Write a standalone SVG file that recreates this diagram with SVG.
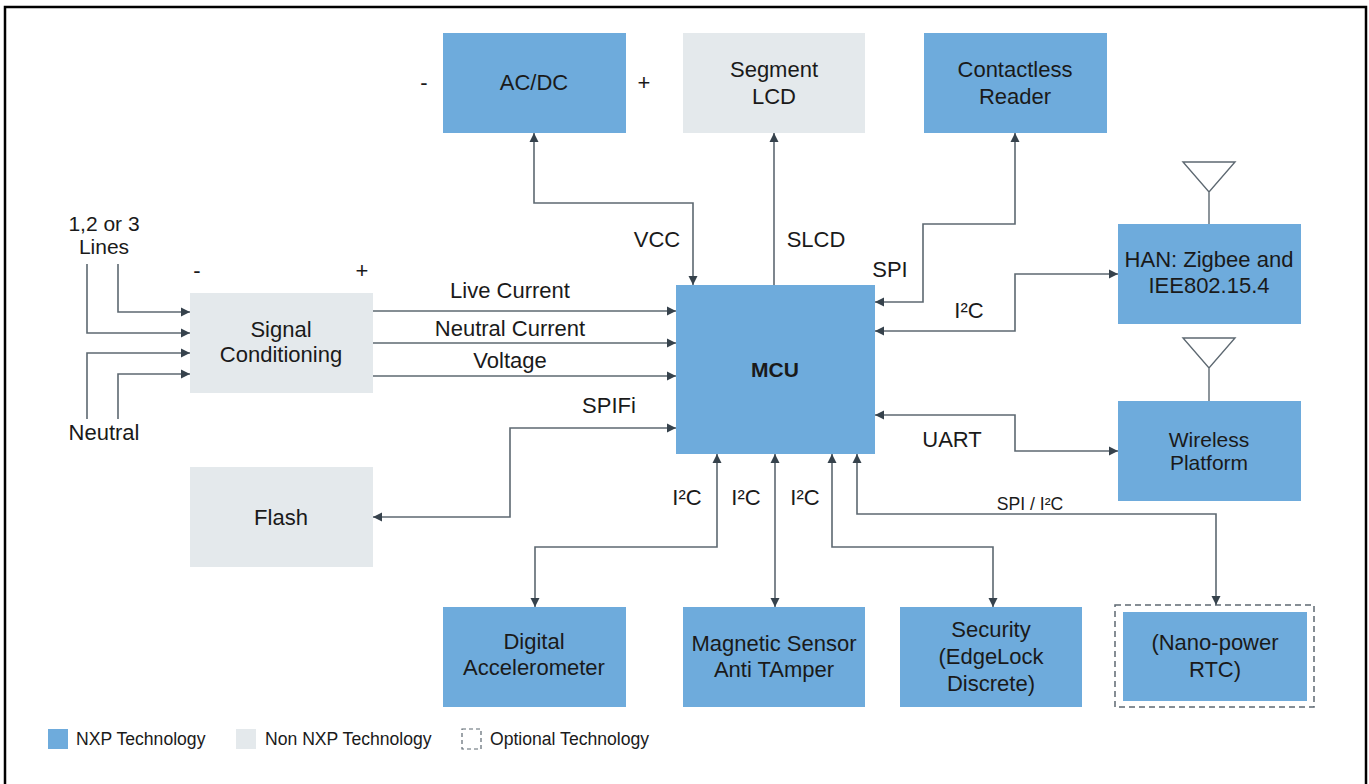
<svg xmlns="http://www.w3.org/2000/svg" width="1369" height="784" viewBox="0 0 1369 784">
<style>
.nxp{fill:#6EABDC}
.non{fill:#E4E9EC}
.t{font-family:"Liberation Sans",Arial,sans-serif;font-size:22px;fill:#1a1a1a;text-anchor:middle}
.s{font-family:"Liberation Sans",Arial,sans-serif;font-size:17.6px;fill:#1a1a1a}
.c{fill:none;stroke:#5d6871;stroke-width:1.6}
.ant{fill:none;stroke:#5d6871;stroke-width:1.4}
</style>
<defs>
<marker id="a" viewBox="0 0 10 10" refX="10" refY="5" markerWidth="9" markerHeight="10" markerUnits="userSpaceOnUse" orient="auto-start-reverse">
<path d="M0,0 L10,5 L0,10 z" fill="#36424c"/>
</marker>
</defs>
<rect x="0" y="0" width="1369" height="784" fill="#fff"/>
<rect x="5" y="7" width="1361" height="800" fill="none" stroke="#000" stroke-width="2.5"/>

<g id="acdc"><rect class="nxp" x="443" y="33" width="183" height="100"/><text class="t" x="534" y="90">AC/DC</text>
<text class="t" x="424" y="90">-</text><text class="t" x="644" y="90">+</text></g>
<g id="slcd"><rect class="non" x="683" y="33" width="182" height="100"/><text class="t" x="774" y="77">Segment</text><text class="t" x="774" y="104">LCD</text></g>
<g id="reader"><rect class="nxp" x="924" y="33" width="183" height="100"/><text class="t" x="1015" y="77">Contactless</text><text class="t" x="1015" y="104">Reader</text></g>
<g id="han"><rect class="nxp" x="1118" y="224" width="183" height="100"/><text class="t" x="1209" y="267">HAN: Zigbee and</text><text class="t" x="1209" y="293">IEE802.15.4</text>
<path class="ant" d="M1209,224 V192 M1183,162 H1235 L1209,192 Z"/></g>
<g id="wireless"><rect class="nxp" x="1118" y="401" width="183" height="100"/><text class="t" x="1209" y="447" style="font-size:21px">Wireless</text><text class="t" x="1209" y="470" style="font-size:21px">Platform</text>
<path class="ant" d="M1209,401 V368 M1183,338 H1235 L1209,368 Z"/></g>
<g id="mcu"><rect class="nxp" x="676" y="285" width="199" height="169"/><text class="t" x="775" y="377" style="font-weight:bold;font-size:21px">MCU</text></g>
<g id="signal"><rect class="non" x="190" y="293" width="183" height="100"/><text class="t" x="281" y="337">Signal</text><text class="t" x="281" y="362">Conditioning</text>
<text class="t" x="197" y="278">-</text><text class="t" x="362" y="278">+</text></g>
<g id="flash"><rect class="non" x="190" y="467" width="183" height="100"/><text class="t" x="281" y="525">Flash</text></g>
<g id="accel"><rect class="nxp" x="443" y="607" width="183" height="100"/><text class="t" x="534" y="649">Digital</text><text class="t" x="534" y="675">Accelerometer</text></g>
<g id="mag"><rect class="nxp" x="683" y="607" width="182" height="100"/><text class="t" x="774" y="651">Magnetic Sensor</text><text class="t" x="774" y="677">Anti TAmper</text></g>
<g id="security"><rect class="nxp" x="900" y="607" width="182" height="100"/><text class="t" x="991" y="637">Security</text><text class="t" x="991" y="664">(EdgeLock</text><text class="t" x="991" y="691">Discrete)</text></g>
<g id="rtc"><rect x="1115" y="605" width="199" height="102" fill="none" stroke="#5d6871" stroke-width="1.5" stroke-dasharray="6,4"/><rect class="nxp" x="1123" y="612" width="184" height="89"/><text class="t" x="1215" y="650">(Nano-power</text><text class="t" x="1215" y="677">RTC)</text></g>
<g id="lines-label"><text class="t" x="104" y="231" style="font-size:21px">1,2 or 3</text><text class="t" x="104" y="254" style="font-size:21px">Lines</text><text class="t" x="104" y="440">Neutral</text></g>

<g id="connectors">
<path class="c" d="M534,133 V203 H693 V285" marker-start="url(#a)" marker-end="url(#a)"/>
<path class="c" d="M774,285 V133" marker-end="url(#a)"/>
<path class="c" d="M875,302 H923 V224 H1015 V133" marker-start="url(#a)" marker-end="url(#a)"/>
<path class="c" d="M875,331 H1015 V274 H1118" marker-start="url(#a)" marker-end="url(#a)"/>
<path class="c" d="M875,415 H1015 V451 H1118" marker-start="url(#a)" marker-end="url(#a)"/>
<path class="c" d="M373,311 H676" marker-end="url(#a)"/>
<path class="c" d="M373,343 H676" marker-end="url(#a)"/>
<path class="c" d="M373,376 H676" marker-end="url(#a)"/>
<path class="c" d="M676,428 H510 V517 H373" marker-start="url(#a)" marker-end="url(#a)"/>
<path class="c" d="M118,264 V312 H190" marker-end="url(#a)"/>
<path class="c" d="M87,264 V333 H190" marker-end="url(#a)"/>
<path class="c" d="M87,419 V353 H190" marker-end="url(#a)"/>
<path class="c" d="M118,419 V374 H190" marker-end="url(#a)"/>
<path class="c" d="M717,454 V547 H535 V607" marker-start="url(#a)" marker-end="url(#a)"/>
<path class="c" d="M775,454 V607" marker-start="url(#a)" marker-end="url(#a)"/>
<path class="c" d="M832,454 V547 H993 V607" marker-start="url(#a)" marker-end="url(#a)"/>
<path class="c" d="M857,454 V514 H1216 V605" marker-start="url(#a)" marker-end="url(#a)"/>
<text class="t" x="657" y="247">VCC</text>
<text class="t" x="816" y="247">SLCD</text>
<text class="t" x="890" y="277">SPI</text>
<text class="t" x="969" y="318">I²C</text>
<text class="t" x="952" y="447">UART</text>
<text class="t" x="510" y="298">Live Current</text>
<text class="t" x="510" y="336">Neutral Current</text>
<text class="t" x="510" y="368">Voltage</text>
<text class="t" x="609" y="413">SPIFi</text>
<text class="t" x="687" y="505">I²C</text>
<text class="t" x="746" y="505">I²C</text>
<text class="t" x="805" y="505">I²C</text>
<text class="s" x="1030" y="510" text-anchor="middle">SPI / I²C</text>
</g>

<g id="legend">
<rect class="nxp" x="48" y="729" width="20" height="20"/><text class="s" x="76" y="745">NXP Technology</text>
<rect class="non" x="236" y="729" width="20" height="20"/><text class="s" x="265" y="745">Non NXP Technology</text>
<rect x="462" y="729" width="19" height="20" fill="none" stroke="#5d6871" stroke-width="1.2" stroke-dasharray="4,3"/><text class="s" x="490" y="745">Optional Technology</text>
</g>
</svg>
